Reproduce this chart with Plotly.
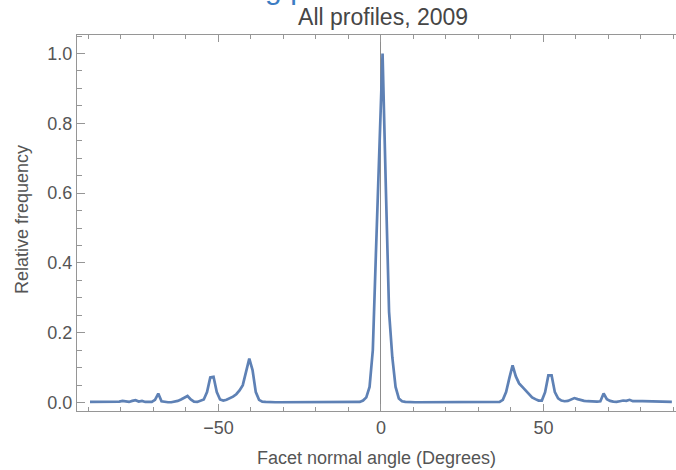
import plotly.graph_objects as go

# Bin centres (degrees) and relative frequencies
angles = [x + 0.5 for x in range(-90, 90)]

freq_neg = [  # -89.5 .. -0.5
    0.002, 0.002, 0.002, 0.002, 0.002, 0.003, 0.003, 0.003, 0.003, 0.003,   # -89.5..-80.5
    0.005, 0.003, 0.002, 0.005, 0.007, 0.003, 0.005, 0.002, 0.001, 0.002,   # -79.5..-70.5
    0.008, 0.026, 0.004, 0.002, 0.001, 0.001, 0.002, 0.005, 0.009, 0.014,   # -69.5..-60.5
    0.019, 0.009, 0.003, 0.002, 0.005, 0.009, 0.030, 0.072, 0.074, 0.030,   # -59.5..-50.5
    0.009, 0.006, 0.008, 0.012, 0.017, 0.024, 0.035, 0.050, 0.090, 0.126,   # -49.5..-40.5
    0.093, 0.030, 0.008, 0.003, 0.002, 0.001, 0.001, 0.001, 0.001, 0.001,   # -39.5..-30.5
    0.001, 0.001, 0.001, 0.001, 0.001, 0.001, 0.001, 0.001, 0.001, 0.001,   # -29.5..-20.5
    0.001, 0.001, 0.001, 0.001, 0.001, 0.001, 0.001, 0.001, 0.001, 0.001,   # -19.5..-10.5
    0.001, 0.001, 0.001, 0.002, 0.006, 0.015, 0.045, 0.150, 0.440, 0.750,   # -9.5..-0.5
]
freq_pos = [  # 0.5 .. 89.5
    1.000, 0.620, 0.260, 0.130, 0.045, 0.012, 0.004, 0.002, 0.001, 0.001,   # 0.5..9.5
    0.001, 0.001, 0.001, 0.001, 0.001, 0.001, 0.001, 0.001, 0.001, 0.001,   # 10.5..19.5
    0.001, 0.001, 0.001, 0.001, 0.001, 0.001, 0.001, 0.001, 0.001, 0.001,   # 20.5..29.5
    0.001, 0.001, 0.001, 0.001, 0.001, 0.001, 0.002, 0.008, 0.030, 0.070,   # 30.5..39.5
    0.107, 0.075, 0.055, 0.045, 0.035, 0.025, 0.015, 0.010, 0.006, 0.006,   # 40.5..49.5
    0.030, 0.078, 0.078, 0.030, 0.012, 0.006, 0.004, 0.005, 0.009, 0.013,   # 50.5..59.5
    0.010, 0.007, 0.005, 0.004, 0.003, 0.003, 0.003, 0.004, 0.026, 0.010,   # 60.5..69.5
    0.005, 0.003, 0.002, 0.004, 0.006, 0.005, 0.008, 0.004, 0.005, 0.004,   # 70.5..79.5
    0.004, 0.004, 0.003, 0.003, 0.003, 0.003, 0.003, 0.002, 0.002, 0.002,   # 80.5..89.5
]
freq = freq_neg + freq_pos

x_tickvals = [-50, 0, 50]
y_tickvals = [0.0, 0.2, 0.4, 0.6, 0.8, 1.0]

title_text = "All profiles, 2009"
heading_text = "Facet normals along profiles"
x_title = "Facet normal angle (Degrees)"
y_title = "Relative frequency"

FONT = "Liberation Sans, Arial, sans-serif"
TXT = "rgb(85,85,85)"
FRAME = "rgb(150,150,150)"

fig = go.Figure()
fig.add_trace(go.Scatter(
    x=angles, y=freq, mode="lines",
    line=dict(color="rgb(94,129,181)", width=2.7),
    hoverinfo="skip", showlegend=False,
))

fig.update_layout(
    width=676, height=470,
    margin=dict(l=77, r=0, t=35, b=59),
    paper_bgcolor="white", plot_bgcolor="white",
    font=dict(family=FONT, size=18, color=TXT),
    title=dict(text=title_text, xref="paper", x=0.511, xanchor="center",
               yref="container", y=0.964, yanchor="middle",
               font=dict(family=FONT, size=23, color="rgb(70,70,70)")),
    annotations=[
        dict(text=heading_text, xref="paper", yref="paper",
             x=-0.115, y=1.075, xanchor="left", yanchor="bottom",
             showarrow=False,
             font=dict(family=FONT, size=30, color="rgb(60,125,195)")),
        dict(text=y_title, xref="paper", yref="paper",
             x=-0.0918, y=0.508, xanchor="center", yanchor="middle",
             textangle=-90, showarrow=False,
             font=dict(family=FONT, size=18, color=TXT)),
    ],
)
fig.update_xaxes(
    range=[-93.5, 90.77], tickvals=x_tickvals, ticktext=["\u221250", "0", "50"],
    ticks="inside", ticklen=7, tickcolor=FRAME, tickwidth=1,
    minor=dict(dtick=10, tick0=0, ticks="inside", ticklen=4, tickcolor=FRAME),
    showline=True, linecolor=FRAME, linewidth=1, mirror="allticks",
    showgrid=False, zeroline=True, zerolinecolor="rgb(140,140,140)", zerolinewidth=1,
    automargin=False,
    title=dict(text=x_title, standoff=14, font=dict(size=18, color=TXT)),
    tickfont=dict(size=18, color=TXT),
)
fig.update_yaxes(
    range=[-0.024, 1.053], tickvals=y_tickvals, tickformat=".1f",
    ticks="inside", ticklen=8, tickcolor=FRAME, tickwidth=1,
    minor=dict(dtick=0.05, tick0=0, ticks="inside", ticklen=5, tickcolor=FRAME),
    showline=True, linecolor=FRAME, linewidth=1, mirror=False,
    showgrid=False, zeroline=False,
    automargin=False,
    tickfont=dict(size=18, color=TXT),
)

fig.write_html(
    "out.html",
    config={"displayModeBar": False},
    post_script="document.body.style.margin='0';document.documentElement.style.overflow='hidden';",
)
